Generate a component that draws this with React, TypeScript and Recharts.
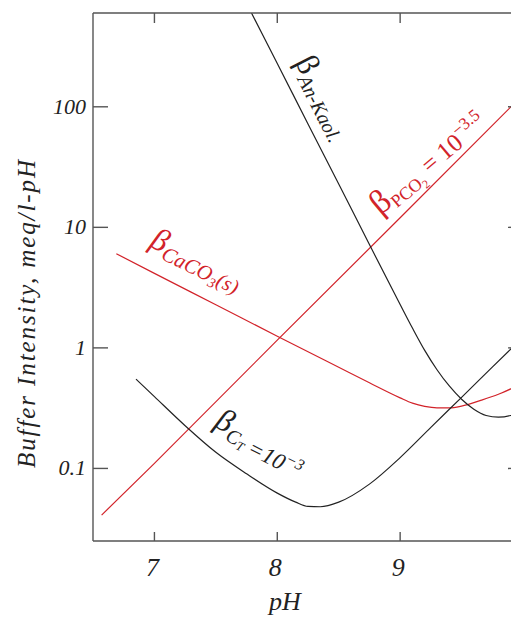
import React from 'react';
import { LineChart, Line, XAxis, YAxis, ReferenceDot } from 'recharts';

const RED = '#d2232a';
const INK = '#222';
const FRAME = '#555';
const SERIF = '"Liberation Serif", "DejaVu Serif", serif';

const phTicks = [7, 8, 9];
const betaTicks = [0.1, 1, 10, 100];

// beta for C_T = 10^-3
const ctPh = [6.85, 7.0, 7.25, 7.5, 7.75, 8.0, 8.15, 8.25, 8.35, 8.5, 8.75, 9.0, 9.25, 9.5, 9.75, 10.0];
const ctBeta = [0.551, 0.394, 0.226, 0.136, 0.0902, 0.0624, 0.0525, 0.0484, 0.0481, 0.0525, 0.0741, 0.123, 0.219, 0.389, 0.692, 1.23];

// beta for open system, PCO2 = 10^-3.5
const pco2Ph = [6.57, 7.0, 8.0, 9.0, 10.0];
const pco2Beta = [0.041, 0.11, 1.16, 12.0, 126];

// beta with calcite present
const calcPh = [6.69, 7.0, 7.5, 8.0, 8.5, 8.75, 9.0, 9.1, 9.2, 9.3, 9.4, 9.5, 9.65, 9.8, 9.9, 10.0];
const calcBeta = [6.04, 4.15, 2.28, 1.25, 0.69, 0.513, 0.385, 0.348, 0.327, 0.318, 0.318, 0.329, 0.365, 0.412, 0.457, 0.525];

// beta anorthite - kaolinite
const kaolPh = [7.79, 8.0, 8.25, 8.5, 8.75, 9.0, 9.1, 9.2, 9.3, 9.4, 9.5, 9.6, 9.7, 9.8, 9.9, 10.0];
const kaolBeta = [600, 229, 72, 22.9, 7.2, 2.29, 1.46, 0.953, 0.659, 0.483, 0.375, 0.31, 0.275, 0.266, 0.275, 0.302];

const zip = (xs: number[], ys: number[]) => xs.map((ph, i) => ({ ph, b: ys[i] }));

const ctData = zip(ctPh, ctBeta);
const pco2Data = zip(pco2Ph, pco2Beta);
const calcData = zip(calcPh, calcBeta);
const kaolData = zip(kaolPh, kaolBeta);

const BottomTick = (p: any) => (
  <g>
    <line x1={p.x} y1={p.y} x2={p.x} y2={p.y - 9} stroke={FRAME} strokeWidth={1.4} />
    <text x={p.x - 2} y={p.y + 35} textAnchor="middle" fontFamily={SERIF} fontStyle="italic" fontSize={26} fill={INK}>
      {p.payload.value}
    </text>
  </g>
);

const TopTick = (p: any) => (
  <line x1={p.x} y1={p.y} x2={p.x} y2={p.y + 10} stroke={FRAME} strokeWidth={1.4} />
);

const LeftTick = (p: any) => (
  <g>
    <line x1={p.x} y1={p.y} x2={p.x + 15} y2={p.y} stroke={FRAME} strokeWidth={1.4} />
    <text x={p.x - 7} y={p.y + 7} textAnchor="end" fontFamily={SERIF} fontStyle="italic" fontSize={22} fill={INK}>
      {String(p.payload.value)}
    </text>
  </g>
);

const RightTick = (p: any) => (
  <line x1={p.x} y1={p.y} x2={p.x - 15} y2={p.y} stroke={FRAME} strokeWidth={1.4} />
);

const tag = (angle: number, body: React.ReactNode) => (p: any) => {
  const vb = p.viewBox || {};
  return <g transform={`translate(${vb.x},${vb.y}) rotate(${angle})`}>{body}</g>;
};

const kaolLabel = tag(63,
  <text fontFamily={SERIF} fill={INK}>
    <tspan fontSize={32}>β</tspan>
    <tspan fontSize={20} fontStyle="italic" dy={6}>An-Kaol.</tspan>
  </text>
);

const pco2Label = tag(-40,
  <text fontFamily={SERIF} fill={RED}>
    <tspan fontSize={34}>β</tspan>
    <tspan fontSize={18} dy={5}>PCO</tspan>
    <tspan fontSize={12} dy={4}>2</tspan>
    <tspan fontSize={25} dx={6} dy={-9}>= 10</tspan>
    <tspan fontSize={17} dy={-11}>−3.5</tspan>
  </text>
);

const calcLabel = tag(26,
  <text fontFamily={SERIF} fill={RED} fontStyle="italic">
    <tspan fontSize={32}>β</tspan>
    <tspan fontSize={21} dy={6}>CaCO</tspan>
    <tspan fontSize={14} dy={4}>3</tspan>
    <tspan fontSize={21} dy={-4}>(s)</tspan>
  </text>
);

const ctLabel = tag(27,
  <text fontFamily={SERIF} fill={INK} fontStyle="italic">
    <tspan fontSize={32}>β</tspan>
    <tspan fontSize={20} dy={7}>C</tspan>
    <tspan fontSize={13} dy={3}>T</tspan>
    <tspan fontSize={23} dx={5} dy={-1}>=10</tspan>
    <tspan fontSize={16} dy={-9}>−3</tspan>
  </text>
);

export default function App() {
  return (
    <div style={{ position: 'absolute', left: 0, top: 0, width: 511, height: 620, overflow: 'hidden', background: '#fff' }}>
      <LineChart width={540} height={620} margin={{ top: 12, right: 16, bottom: 78, left: 92 }}>
        <XAxis xAxisId="b" dataKey="ph" type="number" domain={[6.5, 10]} ticks={phTicks} interval={0}
          allowDataOverflow height={1} tickSize={0} tickMargin={0} tickLine={false}
          axisLine={{ stroke: FRAME, strokeWidth: 1.4 }} tick={<BottomTick />} />
        <XAxis xAxisId="t" orientation="top" dataKey="ph" type="number" domain={[6.5, 10]} ticks={phTicks} interval={0}
          allowDataOverflow height={1} tickSize={0} tickMargin={0} tickLine={false}
          axisLine={{ stroke: FRAME, strokeWidth: 1.4 }} tick={<TopTick />} />
        <YAxis yAxisId="l" type="number" scale="log" domain={[0.025, 600]} ticks={betaTicks} interval={0}
          allowDataOverflow width={1} tickSize={0} tickMargin={0} tickLine={false}
          axisLine={{ stroke: FRAME, strokeWidth: 1.4 }} tick={<LeftTick />} />
        <YAxis yAxisId="r" orientation="right" type="number" scale="log" domain={[0.025, 600]} ticks={betaTicks} interval={0}
          allowDataOverflow width={1} tickSize={0} tickMargin={0} tickLine={false}
          axisLine={{ stroke: FRAME, strokeWidth: 1.4 }} tick={<RightTick />} />

        <Line data={pco2Data} dataKey="b" xAxisId="b" yAxisId="l" type="linear" stroke={RED} strokeWidth={1.2} dot={false} isAnimationActive={false} />
        <Line data={calcData} dataKey="b" xAxisId="b" yAxisId="l" type="monotone" stroke={RED} strokeWidth={1.2} dot={false} isAnimationActive={false} />
        <Line data={ctData} dataKey="b" xAxisId="b" yAxisId="l" type="monotone" stroke={INK} strokeWidth={1.2} dot={false} isAnimationActive={false} />
        <Line data={kaolData} dataKey="b" xAxisId="b" yAxisId="l" type="monotone" stroke={INK} strokeWidth={1.2} dot={false} isAnimationActive={false} />

        <ReferenceDot xAxisId="b" yAxisId="l" x={8.143} y={235} r={0} fill="none" stroke="none" ifOverflow="visible" label={kaolLabel} />
        <ReferenceDot xAxisId="b" yAxisId="l" x={8.84} y={12.5} r={0} fill="none" stroke="none" ifOverflow="visible" label={pco2Label} />
        <ReferenceDot xAxisId="b" yAxisId="l" x={6.951} y={7.0} r={0} fill="none" stroke="none" ifOverflow="visible" label={calcLabel} />
        <ReferenceDot xAxisId="b" yAxisId="l" x={7.478} y={0.224} r={0} fill="none" stroke="none" ifOverflow="visible" label={ctLabel} />

        <text transform="translate(35,314) rotate(-90)" textAnchor="middle" fontFamily={SERIF} fontStyle="italic"
          fontSize={25} fill={INK} textLength={308} lengthAdjust="spacing">
          Buffer Intensity, meq/l-pH
        </text>
        <text x={285} y={610} textAnchor="middle" fontFamily={SERIF} fontStyle="italic" fontSize={26} fill={INK}>pH</text>
      </LineChart>
    </div>
  );
}
